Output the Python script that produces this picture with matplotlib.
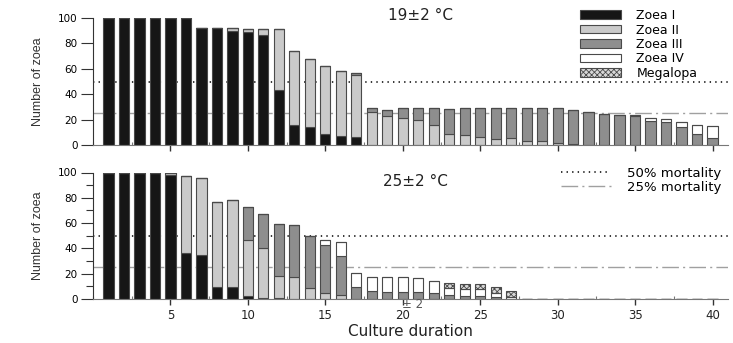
import matplotlib
matplotlib.use('Agg')
import matplotlib.pyplot as plt
from matplotlib.patches import Patch
from matplotlib.lines import Line2D
from matplotlib.ticker import MultipleLocator, FixedLocator

plt.rcParams['font.family'] = ['DejaVu Sans']
plt.rcParams['hatch.linewidth'] = 0.6
plt.rcParams['lines.scale_dashes'] = False

days = list(range(1, 41))
stages = ['Zoea I', 'Zoea II', 'Zoea III', 'Zoea IV', 'Megalopa']
x_ticks = [5, 10, 15, 20, 25, 30, 35, 40]

# 19 +- 2 degC
t19_zoea1 = [100, 100, 100, 100, 100, 100, 92, 92, 90, 89, 87, 43, 15.5, 14, 9, 7, 6] + [0] * 23
t19_zoea2 = [0] * 8 + [2, 2, 4, 48, 58.5, 53.7, 53, 51, 49,
                       26, 23, 21.5, 20, 15.5, 9, 8, 6.5, 5, 5.5, 3.5, 3, 1.5, 1] + [0] * 9
t19_zoea3 = [0] * 16 + [2, 3.4, 4.8, 7.5, 9, 13.5, 19, 21, 22.5, 24, 23.5, 25.5, 26, 27.5,
                        26.6, 26.2, 24.7, 23.4, 22.5, 19.2, 18.1, 13.9, 9, 5.8]
t19_zoea4 = [0] * 34 + [1, 1.8, 2.1, 3.9, 6.7, 8.9]
t19_megalopa = [0] * 40

# 25 +- 2 degC
t25_zoea1 = [100, 100, 100, 100, 98, 36.6, 34.5, 9.7, 9.7, 2.6, 1, 0.5] + [0] * 28
t25_zoea2 = [0, 0, 0, 0, 2, 60.4, 61.5, 67.3, 68.3, 44, 39.5, 17.9, 17.6, 8.4, 5, 3] + [0] * 24
t25_zoea3 = [0] * 9 + [26.4, 26.5, 40.6, 40.8, 41.3, 37.6, 31, 9.7, 6.6, 5.5, 5.5, 5.5,
                       4.5, 3.5, 2.4, 2.4, 1.5] + [0] * 14
t25_zoea4 = [0] * 14 + [4, 10.7, 11.1, 11, 12.1, 12.1, 11.3, 10, 5.4, 5.2, 5.2, 3, 1.5] + [0] * 13
t25_megalopa = [0] * 22 + [4, 4, 4, 5.2, 5.1] + [0] * 13

fills = ['#161616', '#cacaca', '#8e8e8e', 'white', '#d8d8d8']
hatches = [None, None, None, None, 'xxxxxx']
edge = '#4a4a4a'

W, H = 733, 343
fig = plt.figure(figsize=(W / 100, H / 100), dpi=100)


def px_axes(left, top, right, bottom):
    return fig.add_axes([left / W, 1 - bottom / H, (right - left) / W, (bottom - top) / H])


def draw_panel(ax, series, minor_y):
    ax.axhline(50, color='black', lw=1.1, ls=(0, (1.0, 3.0)), zorder=1)
    ax.axhline(25, color='#a0a0a0', lw=1.0, ls=(0, (12, 3, 1.5, 3)), zorder=1)
    bottom = [0] * len(days)
    for vals, fc, h in zip(series, fills, hatches):
        ax.bar(days, vals, width=0.66, bottom=bottom, color=fc, edgecolor=edge,
               linewidth=0.8, hatch=h, zorder=2)
        bottom = [b + v for b, v in zip(bottom, vals)]
    ax.set_xlim(0, 41)
    ax.set_ylim(0, 100)
    for s in ['top', 'right']:
        ax.spines[s].set_visible(False)
    ax.spines['left'].set_color('#333333')
    ax.spines['bottom'].set_color('#777777')
    ax.xaxis.set_major_locator(FixedLocator(x_ticks))
    ax.xaxis.set_minor_locator(MultipleLocator(2.5))
    ax.yaxis.set_major_locator(MultipleLocator(20))
    ax.tick_params(axis='x', which='major', direction='out', length=4, width=1, color='#333333')
    ax.tick_params(axis='x', which='minor', direction='in', length=2.5, width=0.8, color='#777777')
    ax.tick_params(axis='y', which='major', direction='out', length=9, width=0.8,
                   color='#333333', labelsize=7.5, pad=2)
    if minor_y:
        ax.yaxis.set_minor_locator(MultipleLocator(10))
        ax.tick_params(axis='y', which='minor', direction='out', length=5, width=0.8, color='#333333')
    ax.set_ylabel('Number of zoea', fontsize=9, family=['Liberation Sans Narrow', 'Liberation Sans'],
                  color='#333333', labelpad=10)


ax1 = px_axes(93, 18, 728, 145)
draw_panel(ax1, [t19_zoea1, t19_zoea2, t19_zoea3, t19_zoea4, t19_megalopa], False)
ax1.tick_params(axis='x', labelbottom=False)

ax2 = px_axes(93, 172.5, 728, 299)
draw_panel(ax2, [t25_zoea1, t25_zoea2, t25_zoea3, t25_zoea4, t25_megalopa], True)
ax2.tick_params(axis='x', labelsize=8.5, labelcolor='#222222', pad=3)
ax2.set_xlabel('Culture duration', fontsize=11, color='#222222', labelpad=2)

fig.text(421 / W, 1 - 15 / H, '19\u00b12 \u00b0C', ha='center', va='center', fontsize=11, color='#222222')
fig.text(415 / W, 1 - 181 / H, '25\u00b12 \u00b0C', ha='center', va='center', fontsize=11, color='#222222')
fig.text(413 / W, 1 - 305 / H, '\u00b1 2', ha='center', va='center', fontsize=8.5, color='#555555')

stage_handles = [Patch(facecolor=fc, edgecolor=edge, hatch=h, linewidth=0.8)
                 for fc, h in zip(fills, hatches)]
fig.legend(stage_handles, stages, loc='upper left', bbox_to_anchor=(580 / W, 1 - 9 / H),
           frameon=False, fontsize=9, borderpad=0, borderaxespad=0, labelspacing=0.12,
           handlelength=3.3, handleheight=0.65, handletextpad=1.2)

line_handles = [Line2D([], [], color='black', lw=1.1, ls=(0, (1.0, 3.0))),
                Line2D([], [], color='#a0a0a0', lw=1.0, ls=(0, (12, 3, 1.5, 3)))]
fig.legend(line_handles, ['50% mortality', '25% mortality'], loc='upper left',
           bbox_to_anchor=(561 / W, 1 - 167 / H), frameon=False, fontsize=9.5,
           borderpad=0, borderaxespad=0, labelspacing=0.05, handlelength=3.8, handletextpad=1.2)

fig.savefig('out.png', dpi=100)
